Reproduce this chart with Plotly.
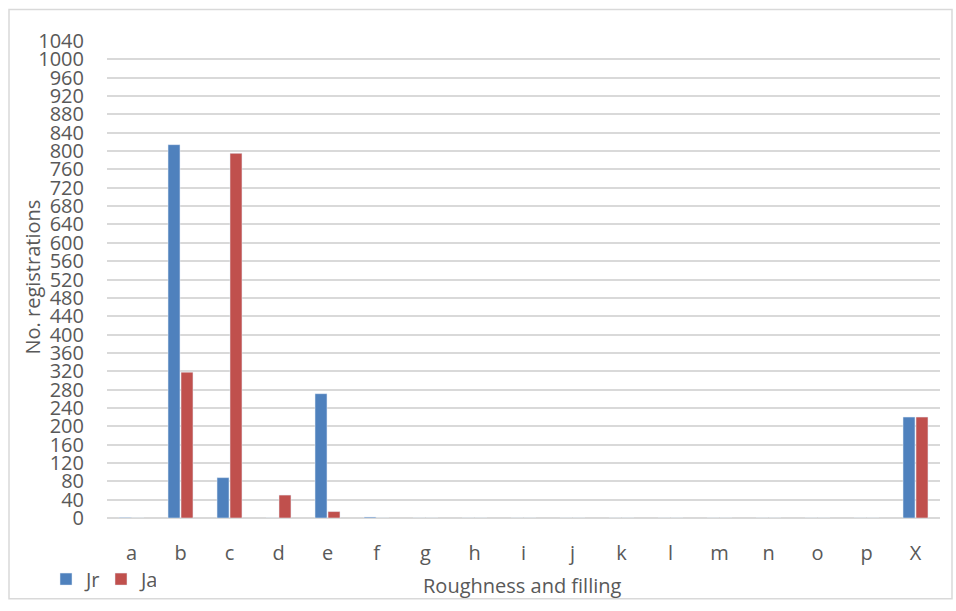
import plotly.graph_objects as go

categories = ["a", "b", "c", "d", "e", "f", "g", "h", "i", "j", "k", "l", "m", "n", "o", "p", "X"]
jr_values = [1, 814, 88, 0, 271, 2, 0, 0, 0, 0, 0, 0, 0, 0, 0, 0, 220]
ja_values = [0, 318, 795, 50, 14, 0, 0, 0, 0, 0, 0, 0, 0, 0, 0, 0, 220]
y_ticks = list(range(0, 1041, 40))

FONT = "Open Sans"
TXT = "#595959"
W, H = 956, 611
ML, MR, MT, MB = 107, 16, 41, 86
PW, PH = W - ML - MR, H - MT - MB


def px(x):
    return (x - ML) / PW


def py(y):
    return (H - MB - y) / PH


fig = go.Figure()
fig.add_trace(go.Bar(name="Jr", x=categories, y=jr_values, marker_color="#4F81BD"))
fig.add_trace(go.Bar(name="Ja", x=categories, y=ja_values, marker_color="#C0504D"))

fig.update_layout(
    width=W, height=H,
    margin=dict(l=ML, r=MR, t=MT, b=MB),
    paper_bgcolor="white", plot_bgcolor="white",
    barmode="group", bargap=0.47, bargroupgap=0.08,
    font=dict(family=FONT, color=TXT, size=20),
    showlegend=True,
    legend=dict(orientation="h", x=px(46), y=py(587), xanchor="left", yanchor="middle",
                font=dict(size=20, color=TXT), itemwidth=30, traceorder="normal",
                entrywidth=10, entrywidthmode="pixels",
                bgcolor="rgba(0,0,0,0)"),
    xaxis=dict(showgrid=False, showline=False, zeroline=False, ticks="",
               ticklabelstandoff=21, tickfont=dict(size=20, color=TXT)),
    yaxis=dict(range=[0, 1040], tickvals=y_ticks, showgrid=True, gridcolor="#D9D9D9",
               gridwidth=1.5, zeroline=True, zerolinecolor="#D9D9D9", zerolinewidth=1.5,
               showline=False, ticks="", ticklabelstandoff=22,
               tickfont=dict(size=20, color=TXT)),
    annotations=[
        dict(text="No. registrations", xref="paper", yref="paper", x=px(33),
             y=py(281), textangle=-90, showarrow=False, xanchor="center",
             yanchor="middle", font=dict(size=20, color=TXT)),
        dict(text="Roughness and filling", xref="paper", yref="paper", x=px(522),
             y=py(593), showarrow=False, xanchor="center", yanchor="middle",
             font=dict(size=20, color=TXT)),
    ],
    shapes=[
        dict(type="rect", xref="paper", yref="paper",
             x0=px(9), x1=px(952), y0=py(607), y1=py(9),
             line=dict(color="#D9D9D9", width=1.5), fillcolor="rgba(0,0,0,0)", layer="below"),
    ],
)

fig.write_html("out.html", config={"displayModeBar": False},
               post_script="document.body.style.margin='0';document.body.style.overflow='hidden';")
